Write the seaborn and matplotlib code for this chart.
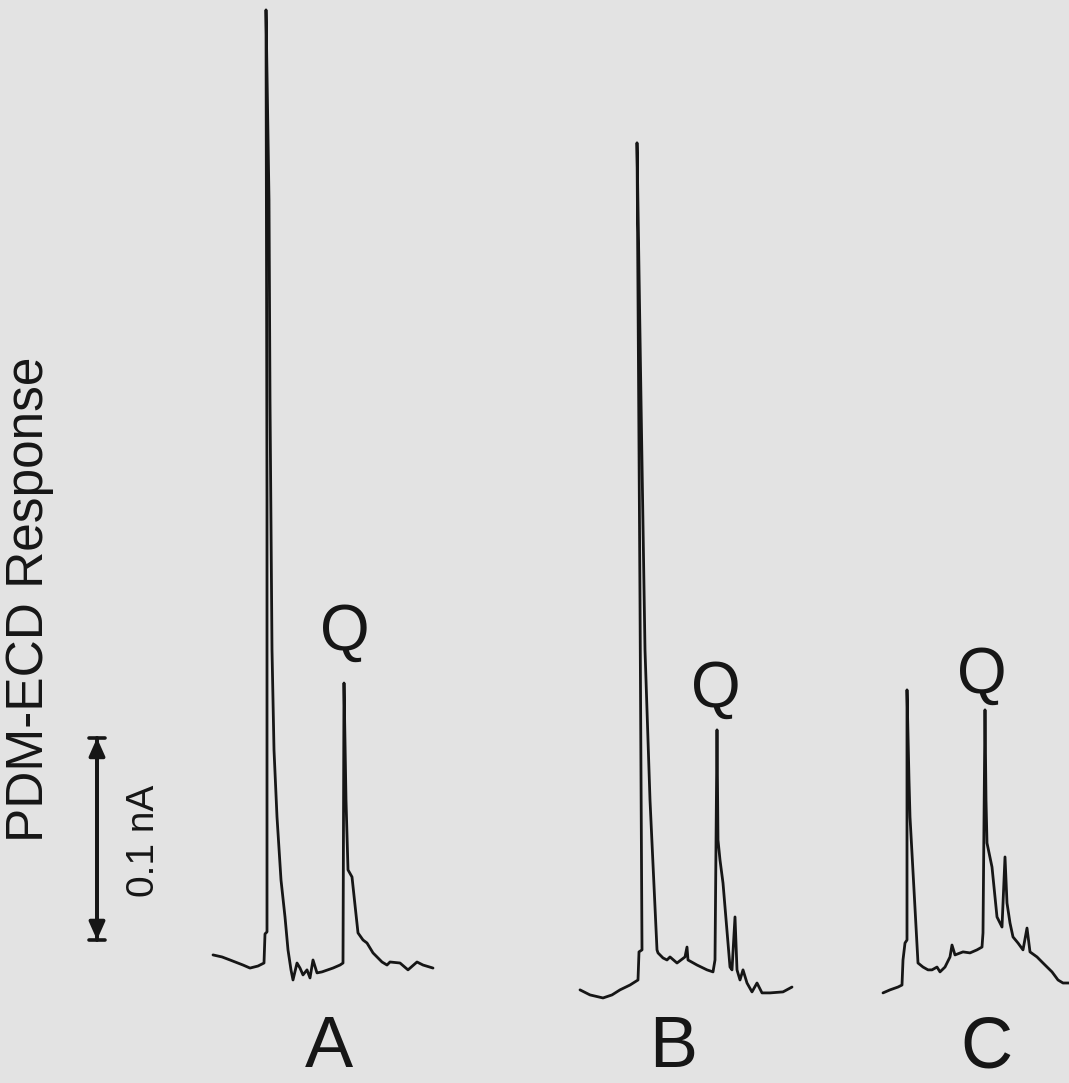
import numpy as np
import pandas as pd
import matplotlib
matplotlib.use("Agg")
import matplotlib.pyplot as plt
import seaborn as sns

# ---- data (time in min, detector response in pA) ----
run_labels = ["A", "B", "C"]

time_a = [2.13, 2.22, 2.30, 2.43, 2.50, 2.58, 2.64, 2.65, 2.67, 2.67, 2.66, 2.69, 2.70, 2.72,
          2.74, 2.77, 2.81, 2.85, 2.88, 2.91, 2.93, 2.97, 3.00, 3.03, 3.07, 3.10, 3.13, 3.17,
          3.22, 3.33, 3.40, 3.43, 3.44, 3.46, 3.48, 3.52, 3.55, 3.58, 3.63, 3.67, 3.73, 3.82,
          3.87, 3.90, 4.00, 4.08, 4.17, 4.23, 4.33]
resp_a = [22.3, 21.3, 19.8, 17.3, 15.8, 16.8, 18.3, 32.7, 33.7, 247.5, 490.1, 396.0, 297.0, 173.3,
          123.8, 90.6, 59.4, 41.1, 24.8, 14.9, 9.9, 18.3, 15.8, 12.4, 14.9, 10.9, 19.8, 13.4,
          13.9, 15.8, 17.3, 18.3, 156.9, 99.0, 64.4, 60.9, 47.0, 33.2, 29.7, 28.2, 23.3, 18.8,
          17.3, 18.8, 18.3, 14.9, 18.8, 17.3, 15.8]

time_b = [5.80, 5.90, 6.03, 6.12, 6.20, 6.30, 6.38, 6.39, 6.42, 6.40, 6.37, 6.41, 6.45, 6.50,
          6.57, 6.58, 6.63, 6.67, 6.70, 6.77, 6.85, 6.87, 6.88, 6.97, 7.07, 7.13, 7.15, 7.17,
          7.18, 7.20, 7.23, 7.30, 7.32, 7.35, 7.37, 7.40, 7.43, 7.47, 7.52, 7.57, 7.62, 7.70,
          7.83, 7.92]
resp_b = [5.0, 2.5, 1.0, 2.5, 5.0, 7.4, 9.9, 23.8, 24.8, 198.0, 424.3, 297.0, 173.3, 99.0,
          24.8, 23.3, 20.8, 19.8, 21.3, 18.3, 21.3, 26.2, 19.8, 17.3, 14.9, 13.9, 19.8, 133.7,
          79.2, 69.3, 57.9, 16.3, 14.9, 41.1, 14.9, 9.9, 14.9, 8.4, 4.0, 8.4, 3.5, 3.5,
          4.0, 6.4]

time_c = [8.83, 8.90, 8.98, 9.02, 9.03, 9.05, 9.07, 9.07, 9.09, 9.10, 9.14, 9.18, 9.23, 9.28,
          9.32, 9.37, 9.40, 9.45, 9.50, 9.52, 9.55, 9.63, 9.70, 9.77, 9.82, 9.83, 9.85, 9.86,
          9.87, 9.92, 9.97, 10.02, 10.05, 10.07, 10.10, 10.13, 10.18, 10.23, 10.27, 10.30,
          10.37, 10.43, 10.52, 10.58, 10.63, 10.69]
resp_c = [3.5, 5.0, 6.4, 7.4, 19.8, 28.2, 29.7, 153.5, 108.9, 90.6, 54.5, 18.3, 16.3, 14.9,
          14.9, 16.3, 13.9, 16.3, 21.3, 27.2, 22.3, 23.8, 23.3, 24.8, 26.2, 33.2, 143.6, 99.0,
          77.7, 65.8, 41.1, 36.1, 70.8, 48.0, 38.1, 31.2, 28.2, 24.8, 35.6, 23.8, 21.3, 18.3,
          13.9, 9.9, 8.4, 8.4]

peak_label = "Q"
y_label = "PDM-ECD Response"
scale_label = "0.1 nA"
scale_pa = 100.0  # 0.1 nA

# ---- build frame ----
frames = []
for lab, t, r in zip(run_labels, [time_a, time_b, time_c], [resp_a, resp_b, resp_c]):
    frames.append(pd.DataFrame({"time": t, "response": r, "run": lab,
                                "order": np.arange(len(t))}))
df = pd.concat(frames, ignore_index=True)

# ---- style ----
sns.set_theme(style="white")
bg = "#e3e3e3"
plt.rcParams["font.family"] = ["Liberation Sans", "DejaVu Sans"]
ink = "#161616"

fig = plt.figure(figsize=(10.69, 10.83), dpi=100, facecolor=bg)
ax = fig.add_axes([0, 0, 1, 1])
ax.set_facecolor(bg)

sns.lineplot(data=df, x="time", y="response", units="run", estimator=None, sort=False,
             color=ink, lw=2.0, ax=ax, legend=False)

ax.set_xlim(0, 10.69)
ax.set_ylim(-41.1, 495.0)
ax.axis("off")

# run letters
for lab, xc in zip(run_labels, [3.29, 6.73, 9.86]):
    ax.text(xc, -33.2, lab, ha="center", va="baseline", fontsize=52, color=ink)

# Q labels
for xc, yb in zip([3.45, 7.155, 9.82], [173.3, 145.0, 152.0]):
    ax.text(xc, yb, peak_label, ha="center", va="baseline", fontsize=46, color=ink)

# y label
ax.text(0.30, 198.5, y_label, rotation=90, ha="center", va="center", fontsize=37, color=ink)

# scale bar
y0 = 29.7
ax.annotate("", xy=(0.97, y0 + scale_pa), xytext=(0.97, y0),
            arrowprops=dict(arrowstyle="-|>,head_length=0.9,head_width=0.4", lw=2.6,
                            color=ink, shrinkA=0, shrinkB=0))
ax.annotate("", xy=(0.97, y0), xytext=(0.97, y0 + scale_pa),
            arrowprops=dict(arrowstyle="-|>,head_length=0.9,head_width=0.4", lw=2.6,
                            color=ink, shrinkA=0, shrinkB=0))
ax.annotate("", xy=(0.97, y0 + scale_pa), xytext=(0.97, y0),
            arrowprops=dict(arrowstyle="|-|,widthA=0.5,widthB=0.5", lw=2.6,
                            color=ink, shrinkA=0, shrinkB=0))
ax.text(1.44, 79.0, scale_label, rotation=90, ha="center", va="center", fontsize=28, color=ink)

fig.savefig("out.png", dpi=100, facecolor=bg)
